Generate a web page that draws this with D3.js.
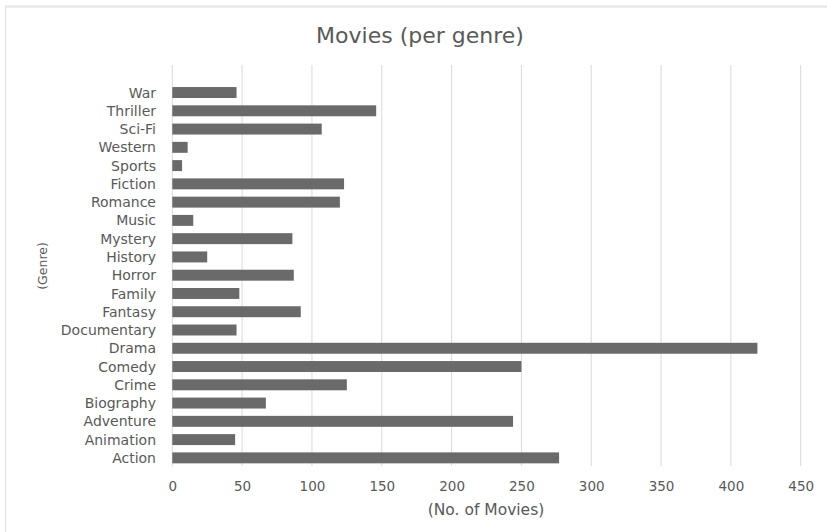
<!DOCTYPE html>
<html>
<head>
<meta charset="utf-8">
<script src="https://cdn.jsdelivr.net/npm/d3@7"></script>
<style>
  html, body { margin: 0; padding: 0; background: #fff; }
  svg { display: block; }
</style>
</head>
<body>
<svg id="chart" width="827" height="532"></svg>
<script>
// Genres listed bottom to top as drawn (Action at the bottom)
const genres = ["Action", "Animation", "Adventure", "Biography", "Crime", "Comedy", "Drama",
  "Documentary", "Fantasy", "Family", "Horror", "History", "Mystery", "Music", "Romance",
  "Fiction", "Sports", "Western", "Sci-Fi", "Thriller", "War"];
const movieCounts = [277, 45, 244, 67, 125, 250, 419,
  46, 92, 48, 87, 25, 86, 15, 120,
  123, 7, 11, 107, 146, 46];
const xTicks = [0, 50, 100, 150, 200, 250, 300, 350, 400, 450];

const chartTitle = "Movies (per genre)";
const xTitle = "(No. of Movies)";
const yTitle = "(Genre)";

const svg = d3.select("#chart");
const W = 827, H = 532;
const font = "'DejaVu Sans', 'Open Sans', sans-serif";
const textColor = "#595959";

// Chart frame edges
svg.append("line").attr("x1", 5.5).attr("x2", 5.5).attr("y1", 6).attr("y2", H)
  .attr("stroke", "#e2e2e2").attr("stroke-width", 1.2);
svg.append("line").attr("x1", 5).attr("x2", W).attr("y1", 6.5).attr("y2", 6.5)
  .attr("stroke", "#e8e8e8").attr("stroke-width", 2.5);

const plotLeft = 172.3, plotRight = 800.7;
const gridTop = 65, gridBottom = 466;

const x = d3.scaleLinear().domain([0, 450]).range([plotLeft, plotRight]);

// Category bands: reversed so the first listed genre sits at the bottom
const y = d3.scaleBand()
  .domain(genres.slice().reverse())
  .range([83.4, 467])
  .paddingInner(0.4)
  .paddingOuter(0.2);

// Vertical gridlines
svg.append("g")
  .selectAll("line")
  .data(xTicks)
  .join("line")
  .attr("x1", d => x(d)).attr("x2", d => x(d))
  .attr("y1", gridTop).attr("y2", gridBottom)
  .attr("stroke", "#d9d9d9")
  .attr("stroke-width", 1);

// Bars
svg.append("g")
  .selectAll("rect")
  .data(genres.map((g, i) => ({ genre: g, value: movieCounts[i] })))
  .join("rect")
  .attr("x", x(0))
  .attr("y", d => y(d.genre))
  .attr("width", d => x(d.value) - x(0))
  .attr("height", y.bandwidth())
  .attr("fill", "#6a6a6a");

// X axis tick labels
const xAxis = d3.axisBottom(x).tickValues(xTicks).tickSize(0).tickPadding(0);
const gx = svg.append("g").attr("transform", `translate(0, 486)`).call(xAxis);
gx.select(".domain").remove();
gx.selectAll("text")
  .attr("font-family", font).attr("font-size", 13.5).attr("fill", textColor)
  .attr("dy", "0.36em").attr("y", 0);

// Y axis category labels
const yAxis = d3.axisLeft(y).tickSize(0).tickPadding(0);
const gy = svg.append("g").attr("transform", `translate(156, 0)`).call(yAxis);
gy.select(".domain").remove();
gy.selectAll("text")
  .attr("font-family", font).attr("font-size", 14).attr("fill", textColor)
  .attr("dy", "0.36em");

// Titles
svg.append("text")
  .attr("x", 420).attr("y", 35).attr("dy", "0.36em")
  .attr("text-anchor", "middle")
  .attr("font-family", font).attr("font-size", 22).attr("fill", textColor)
  .text(chartTitle);

svg.append("text")
  .attr("x", 486).attr("y", 509).attr("dy", "0.36em")
  .attr("text-anchor", "middle")
  .attr("font-family", font).attr("font-size", 15.5).attr("fill", textColor)
  .text(xTitle);

svg.append("text")
  .attr("transform", "translate(42, 266) rotate(-90)")
  .attr("dy", "0.36em")
  .attr("text-anchor", "middle")
  .attr("font-family", font).attr("font-size", 12.5).attr("fill", textColor)
  .text(yTitle);
</script>
</body>
</html>
